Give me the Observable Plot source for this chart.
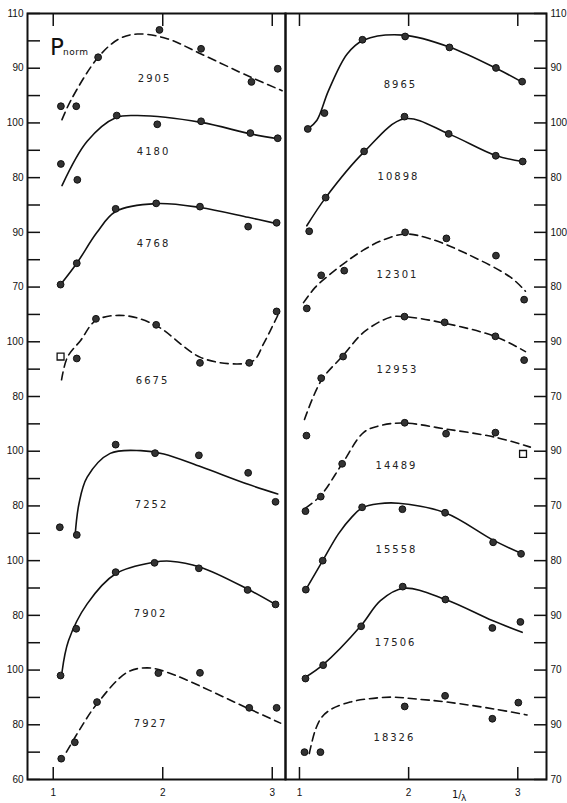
<!DOCTYPE html>
<html><head><meta charset="utf-8">
<script src="https://cdn.jsdelivr.net/npm/d3@7"></script>
<script src="https://cdn.jsdelivr.net/npm/@observablehq/plot@0.6"></script>
<style>
html,body{margin:0;padding:0;background:#fff;}
#wrap{position:relative;width:567px;height:803px;overflow:hidden;font-family:"DejaVu Sans",sans-serif;color:#111;}
#wrap svg{overflow:visible;}
.panel{position:absolute;top:0;}
.ann{position:absolute;white-space:nowrap;line-height:1;color:#111;}
#wrap g[aria-label="text"] text{letter-spacing:2px;}
</style></head><body>
<div id="wrap"></div>
<script>
// ---- stacked-axis layout: each curve is shifted by an offset on a common 0..280 scale
const leftNames = ["2905","4180","4768","6675","7252","7902","7927"];
const leftOffsets = [170,140,110,60,20,-20,-60];
const leftDashed = ["2905","6675","7927"];
const leftTickLabels = [60,80,100,80,100,80,100,80,100,70,90,80,100,90,110]; // bottom→top, every 20 stacked units

const rightNames = ["8965","10898","12301","12953","14489","15558","17506","18326"];
const rightOffsets = [170,140,100,70,30,0,-30,-70];
const rightDashed = ["12301","12953","14489","18326"];
const rightTickLabels = [70,90,70,90,80,70,90,70,90,80,100,80,100,90,110];

const xTicks = [1,2,3];

// ---- measured points [1/λ, P_norm]
const pts2905 = [[1.07,76.1],[1.21,76.1],[1.41,94.0],[1.97,104.0],[2.35,97.1],[2.81,85.0],[3.05,89.8]];
const pts4180 = [[1.07,85.0],[1.22,79.2],[1.58,102.7],[1.95,99.5],[2.35,100.6],[2.80,96.3],[3.05,94.4]];
const pts4768 = [[1.067,70.9],[1.215,78.7],[1.57,98.6],[1.94,100.6],[2.34,99.4],[2.78,92.1],[3.04,93.5]];
const pts6675 = [[1.215,93.9],[1.39,108.4],[1.94,106.2],[2.34,92.3],[2.79,92.3],[3.04,111.1]];
const pts7252 = [[1.06,72.2],[1.215,69.4],[1.57,102.4],[1.93,99.3],[2.33,98.5],[2.78,92.1],[3.03,81.5]];
const pts7902 = [[1.067,58.0],[1.21,75.1],[1.57,95.8],[1.925,99.2],[2.33,97.2],[2.775,89.3],[3.03,84.0]];
const pts7927 = [[1.073,67.6],[1.197,73.6],[1.40,88.3],[1.96,98.9],[2.34,99.0],[2.79,86.2],[3.04,86.2]];
const pts8965 = [[1.076,67.8],[1.229,73.6],[1.577,100.4],[1.968,101.6],[2.374,97.6],[2.80,90.1],[3.04,85.1]];
const pts10898 = [[1.089,60.4],[1.24,72.7],[1.592,89.6],[1.962,102.3],[2.367,96.0],[2.798,88.0],[3.045,85.9]];
const pts12301 = [[1.067,72.2],[1.199,84.3],[1.41,86.0],[1.968,100.0],[2.346,97.8],[2.80,91.5],[3.058,75.4]];
const pts12953 = [[1.064,55.7],[1.199,76.7],[1.40,84.6],[1.962,99.2],[2.33,97.1],[2.795,92.0],[3.058,83.3]];
const pts14489 = [[1.055,68.1],[1.195,73.4],[1.391,85.4],[1.964,100.4],[2.343,96.4],[2.795,96.8]];
const pts15558 = [[1.058,69.4],[1.213,80.0],[1.574,99.5],[1.943,98.8],[2.334,97.5],[2.774,86.7],[3.03,82.5]];
const pts17506 = [[1.055,66.9],[1.217,71.8],[1.565,86.0],[1.946,100.5],[2.337,95.8],[2.767,85.4],[3.024,87.6]];
const pts18326 = [[1.046,80.0],[1.192,80.0],[1.964,96.7],[2.334,100.6],[2.767,92.2],[3.005,98.1]];

// open squares
const sq6675 = [[1.067,94.6]];
const sq14489 = [[3.048,89.0]];

// ---- hand-drawn curves
const fit2905 = [[1.08,71.2],[1.16,78.2],[1.41,94.0],[1.60,100.7],[1.77,102.5],[2.04,100.8],[2.35,95.2],[2.81,86.6],[3.09,81.8]];
const fit4180 = [[1.08,77.1],[1.31,93.3],[1.57,101.9],[1.77,102.7],[2.35,100.2],[2.80,96.0],[3.05,94.2]];
const fit4768 = [[1.067,70.9],[1.215,78.7],[1.40,90.0],[1.57,97.6],[1.94,100.5],[2.34,99.1],[2.78,95.5],[3.04,93.2]];
const fit6675 = [[1.076,86.1],[1.13,94.4],[1.25,100.5],[1.39,107.8],[1.645,109.6],[1.94,105.9],[2.345,94.3],[2.68,91.9],[2.83,93.1],[2.92,99.2],[3.05,109.6]];
const fit7252 = [[1.20,69.3],[1.235,80.8],[1.31,90.5],[1.52,99.2],[1.80,100.2],[2.01,99.0],[2.35,94.3],[2.78,87.9],[3.05,84.4]];
const fit7902 = [[1.08,59.2],[1.14,70.8],[1.31,84.2],[1.57,95.2],[1.92,99.4],[2.07,99.8],[2.345,97.6],[2.77,89.7],[3.045,83.6]];
const fit7927 = [[1.12,70.0],[1.25,78.8],[1.40,87.7],[1.676,99.2],[1.86,100.8],[2.04,99.2],[2.79,85.8],[3.076,80.6]];
const fit8965 = [[1.076,67.8],[1.16,71.0],[1.266,81.8],[1.437,95.2],[1.59,100.3],[1.955,102.1],[2.383,97.6],[2.81,89.8],[3.04,84.9]];
const fit10898 = [[1.067,62.4],[1.24,72.7],[1.592,89.4],[1.962,101.5],[2.367,96.0],[2.798,88.1],[3.045,85.9]];
const fit12301 = [[1.037,74.3],[1.144,79.9],[1.266,84.2],[1.464,90.3],[1.602,93.9],[1.754,97.0],[1.968,99.4],[2.20,97.6],[2.536,92.1],[2.933,83.6],[3.07,78.5]];
const fit12953 = [[1.046,61.6],[1.199,75.8],[1.40,85.0],[1.589,93.5],[1.833,99.0],[1.962,99.2],[2.33,96.8],[2.795,91.9],[3.07,86.4]];
const fit14489 = [[1.055,69.2],[1.195,73.8],[1.391,85.4],[1.589,96.9],[1.742,99.4],[1.955,100.3],[2.343,98.1],[2.795,95.1],[3.115,91.5]];
const fit15558 = [[1.058,69.4],[1.213,80.0],[1.357,89.8],[1.479,95.9],[1.574,99.3],[1.724,100.8],[1.907,101.0],[2.334,97.5],[2.779,87.4],[3.03,82.7]];
const fit17506 = [[1.055,67.4],[1.217,72.0],[1.565,86.3],[1.742,95.4],[1.955,99.9],[2.337,95.8],[2.767,88.1],[3.04,83.8]];
const fit18326 = [[1.09,79.5],[1.144,87.9],[1.204,92.8],[1.296,95.8],[1.464,98.3],[1.632,99.5],[1.846,100.1],[2.047,99.5],[2.353,98.3],[2.779,95.8],[3.085,93.6]];

// curve name anchors [1/λ, P_norm]
const leftLabelAt = [[1.925,86.2],[1.916,89.3],[1.916,85.9],[1.907,85.8],[1.898,80.5],[1.889,80.7],[1.889,80.5]];
const rightLabelAt = [[1.925,84.0],[1.907,80.4],[1.898,84.6],[1.898,79.9],[1.889,84.8],[1.889,84.1],[1.88,80.1],[1.87,85.4]];

const points = {"2905":pts2905,"4180":pts4180,"4768":pts4768,"6675":pts6675,"7252":pts7252,"7902":pts7902,"7927":pts7927,
  "8965":pts8965,"10898":pts10898,"12301":pts12301,"12953":pts12953,"14489":pts14489,"15558":pts15558,"17506":pts17506,"18326":pts18326};
const fits = {"2905":fit2905,"4180":fit4180,"4768":fit4768,"6675":fit6675,"7252":fit7252,"7902":fit7902,"7927":fit7927,
  "8965":fit8965,"10898":fit10898,"12301":fit12301,"12953":fit12953,"14489":fit14489,"15558":fit15558,"17506":fit17506,"18326":fit18326};
const squares = {"6675":sq6675,"14489":sq14489};

function stack(names, offsets, table) {
  return names.flatMap((n, i) => (table[n] || []).map(([x, v]) => ({series: n, x, g: v + offsets[i]})));
}

function panel(side, names, offsets, dashed, tickLabels, labelAt, xDomain) {
  const left = side === "left";
  const fitRows = stack(names, offsets, fits);
  const ptRows = stack(names, offsets, points);
  const sqRows = stack(names, offsets, squares);
  const labRows = names.map((n, i) => ({series: n, x: labelAt[i][0], g: labelAt[i][1] + offsets[i]}));
  const allTicks = d3.range(0, 281, 10);
  const labTicks = d3.range(0, 281, 20);
  const anchor = left ? "left" : "right";
  return Plot.plot({
    width: left ? 285 : 282, height: 803,
    marginTop: 13, marginBottom: 24,
    marginLeft: left ? 27 : 0, marginRight: left ? 0 : 21,
    x: {domain: xDomain},
    y: {domain: [0, 280]},
    style: {background: "transparent", overflow: "visible", fontFamily: "DejaVu Sans, sans-serif", fontSize: "10px", color: "#111"},
    marks: [
      Plot.axisY(allTicks, {anchor, tickSize: 13, dx: left ? 13 : -13, tickFormat: () => "", label: null, strokeWidth: 1.5}),
      Plot.axisY(labTicks, {anchor, tickSize: 0, tickPadding: 4, tickFormat: g => String(tickLabels[Math.round(g / 20)]), label: null, fontSize: 10, fontFamily: "Liberation Sans, Arial, sans-serif"}),
      Plot.axisX(xTicks, {anchor: "bottom", tickSize: 12, dy: -12, tickFormat: () => "", label: null, strokeWidth: 1.5}),
      Plot.axisX(xTicks, {anchor: "top", tickSize: 12, dy: 12, tickFormat: () => "", label: null, strokeWidth: 1.5}),
      Plot.axisX(xTicks, {anchor: "bottom", tickSize: 0, tickPadding: 9, label: null, fontSize: 10, fontFamily: "Liberation Sans, Arial, sans-serif"}),
      Plot.line(fitRows.filter(d => !dashed.includes(d.series)), {x: "x", y: "g", z: "series", curve: "catmull-rom", stroke: "#111", strokeWidth: 1.6}),
      Plot.line(fitRows.filter(d => dashed.includes(d.series)), {x: "x", y: "g", z: "series", curve: "catmull-rom", stroke: "#111", strokeWidth: 1.6, strokeDasharray: "8,5"}),
      Plot.dot(ptRows, {x: "x", y: "g", r: 3.4, fill: "#333", stroke: "#111", strokeWidth: 1}),
      Plot.dot(sqRows, {x: "x", y: "g", symbol: "square", r: 3.9, fill: "white", stroke: "#111", strokeWidth: 1.3}),
      Plot.text(labRows, {x: "x", y: "g", text: "series", fontSize: 10, fill: "#222"}),
      Plot.frame({stroke: "#111", strokeWidth: 2})
    ]
  });
}

const wrap = document.getElementById("wrap");
const leftPlot = panel("left", leftNames, leftOffsets, leftDashed, leftTickLabels, leftLabelAt, [0.765, 3.121]);
const rightPlot = panel("right", rightNames, rightOffsets, rightDashed, rightTickLabels, rightLabelAt, [0.872, 3.263]);
leftPlot.classList.add("panel"); leftPlot.style.left = "0px";
rightPlot.classList.add("panel"); rightPlot.style.left = "285px";
wrap.appendChild(leftPlot);
wrap.appendChild(rightPlot);

function ann(text, left, top, size, extra) {
  const d = document.createElement("div");
  d.className = "ann";
  d.textContent = text;
  d.style.left = left + "px"; d.style.top = top + "px"; d.style.fontSize = size + "px";
  Object.assign(d.style, extra || {});
  wrap.appendChild(d);
}
ann("P", 50, 35.5, 23, {});
ann("norm", 63, 47.5, 9, {letterSpacing: "0.5px"});
ann("1/", 452, 790, 10, {});
ann("λ", 461, 794, 9, {});
</script>
</body></html>
